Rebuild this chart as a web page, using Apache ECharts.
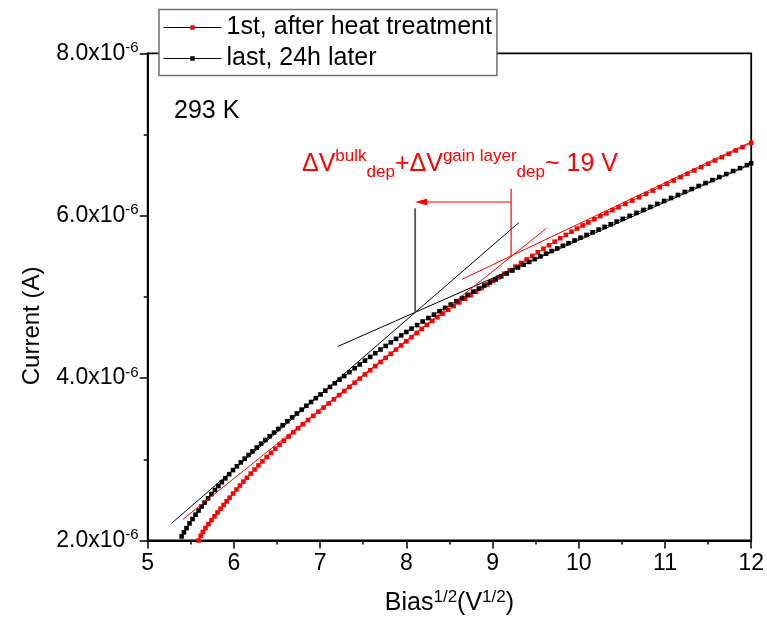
<!DOCTYPE html>
<html>
<head>
<meta charset="utf-8">
<script src="https://cdn.jsdelivr.net/npm/echarts@6/dist/echarts.min.js"></script>
<style>
html,body{margin:0;padding:0;background:#fff;}
#chart{width:767px;height:621px;}
</style>
</head>
<body>
<div id="chart"></div>
<script>
// ---------------- data (Bias^1/2 in V^1/2, current in units of 1e-6 A) ----------------
const seriesNames = ['1st, after heat treatment', 'last, 24h later'];

const biasFirst = [5.590,5.615,5.640,5.670,5.705,5.740,5.775,5.810,5.845,5.880,5.915,5.950,5.990,6.030,6.070,6.110,6.150,6.195,6.240,6.285,6.330,6.380,6.430,6.480,6.530,6.580,6.635,6.690,6.745,6.800,6.860,6.920,6.980,7.040,7.100,7.160,7.220,7.280,7.340,7.400,7.460,7.520,7.580,7.640,7.700,7.760,7.820,7.880,7.940,8.000,8.060,8.120,8.180,8.240,8.300,8.360,8.420,8.485,8.550,8.615,8.680,8.745,8.810,8.875,8.940,9.005,9.070,9.135,9.200,9.265,9.330,9.395,9.460,9.525,9.590,9.655,9.720,9.785,9.850,9.915,9.980,10.045,10.110,10.180,10.250,10.320,10.390,10.460,10.540,10.620,10.700,10.780,10.860,10.940,11.020,11.100,11.180,11.260,11.340,11.420,11.500,11.580,11.660,11.740,11.820,11.900,12.000];
const currentFirst = [2.000,2.058,2.106,2.153,2.203,2.251,2.298,2.345,2.391,2.437,2.482,2.527,2.578,2.628,2.677,2.725,2.772,2.824,2.875,2.925,2.974,3.027,3.079,3.130,3.180,3.229,3.281,3.332,3.382,3.431,3.483,3.535,3.586,3.637,3.688,3.739,3.790,3.841,3.892,3.943,3.994,4.045,4.096,4.147,4.198,4.249,4.300,4.351,4.402,4.453,4.504,4.555,4.606,4.656,4.704,4.750,4.794,4.841,4.887,4.932,4.977,5.021,5.065,5.109,5.153,5.197,5.241,5.285,5.329,5.373,5.417,5.461,5.505,5.549,5.593,5.637,5.680,5.722,5.763,5.803,5.842,5.880,5.917,5.956,5.994,6.031,6.068,6.104,6.145,6.186,6.227,6.268,6.309,6.351,6.392,6.433,6.474,6.515,6.556,6.597,6.639,6.680,6.721,6.762,6.803,6.844,6.896];

const biasLast = [5.393,5.420,5.450,5.485,5.520,5.555,5.590,5.625,5.660,5.700,5.740,5.780,5.820,5.860,5.900,5.945,5.990,6.035,6.080,6.125,6.170,6.215,6.265,6.315,6.365,6.415,6.465,6.515,6.565,6.620,6.675,6.730,6.785,6.840,6.895,6.950,7.005,7.060,7.115,7.170,7.225,7.280,7.340,7.400,7.460,7.520,7.580,7.640,7.700,7.760,7.820,7.880,7.940,8.000,8.060,8.125,8.190,8.255,8.320,8.385,8.450,8.515,8.580,8.645,8.710,8.775,8.840,8.905,8.970,9.035,9.100,9.165,9.230,9.295,9.360,9.425,9.490,9.555,9.620,9.685,9.750,9.815,9.880,9.950,10.020,10.090,10.160,10.230,10.300,10.370,10.440,10.510,10.590,10.670,10.750,10.830,10.910,10.990,11.070,11.150,11.230,11.310,11.390,11.470,11.550,11.630,11.710,11.790,11.870,11.950,12.000];
const currentLast = [2.050,2.100,2.152,2.210,2.265,2.318,2.369,2.418,2.466,2.519,2.571,2.622,2.671,2.719,2.766,2.817,2.867,2.915,2.962,3.008,3.053,3.097,3.145,3.192,3.238,3.284,3.329,3.374,3.419,3.468,3.516,3.564,3.612,3.659,3.706,3.753,3.799,3.845,3.891,3.936,3.981,4.025,4.073,4.121,4.168,4.215,4.261,4.307,4.352,4.396,4.440,4.483,4.526,4.568,4.609,4.653,4.697,4.740,4.782,4.824,4.865,4.906,4.946,4.986,5.025,5.064,5.102,5.140,5.178,5.215,5.252,5.289,5.325,5.361,5.396,5.431,5.465,5.499,5.532,5.565,5.597,5.629,5.661,5.695,5.729,5.763,5.796,5.829,5.862,5.895,5.928,5.961,5.998,6.035,6.071,6.108,6.145,6.182,6.218,6.255,6.292,6.329,6.366,6.402,6.439,6.476,6.513,6.550,6.586,6.623,6.646];

// tangent (fit) lines, endpoints in data units
const tangentLastSteep   = [[5.277, 2.212], [9.304, 5.914]];
const tangentLastFlat    = [[7.203, 4.389], [12.159, 6.709]];
const tangentFirstSteep  = [[5.408, 2.261], [9.624, 5.844]];
const tangentFirstFlat   = [[8.649, 5.218], [12.159, 6.990]];
// depletion markers
const markerLast  = [[8.102, 4.810], [8.102, 6.090]];
const markerFirst = [[9.215, 5.497], [9.215, 6.331]];
const arrowShift  = [9.215, 8.102, 6.169]; // from x, to x, at current

// axes
const xMin = 5, xMax = 12, xStep = 1;
const yMin = 2, yMax = 8, yStep = 2;
const yExponent = '-6';
const temperatureLabel = '293 K';

// ---------------- chart ----------------
const FONT = 'Liberation Sans, Arial, sans-serif';
const RED = '#ff0000';
const chart = echarts.init(document.getElementById('chart'), null, {renderer: 'canvas'});

function zip(xs, ys) { return xs.map((x, i) => [x, ys[i]]); }

function guide(data, color, width) {
  return {
    type: 'line', data: data, showSymbol: false, symbol: 'none', clip: false, silent: true,
    lineStyle: {color: color, width: width}, z: 5, animation: false
  };
}

const option = {
  animation: false,
  backgroundColor: '#fff',
  grid: {left: 147.7, right: 13.7, top: 53.3, bottom: 78.7, show: true,
         borderColor: '#000', borderWidth: 1.8, backgroundColor: 'transparent'},
  legend: {
    data: seriesNames, orient: 'vertical', left: 159, top: 9.5,
    itemWidth: 58, itemHeight: 5.6, itemGap: 3, padding: [4, 5, 3, 4],
    backgroundColor: '#fff', borderColor: '#707070', borderWidth: 1.5,
    selectedMode: false, z: 10,
    lineStyle: {width: 1},
    textStyle: {fontFamily: FONT, fontSize: 25, color: '#000', lineHeight: 28}
  },
  xAxis: {
    type: 'value', min: xMin, max: xMax, interval: xStep,
    name: '{m|Bias}{s|1/2}{m|(V}{s|1/2}{m|)}', nameLocation: 'middle', nameGap: 48,
    nameTextStyle: {
      color: '#000',
      rich: {
        m: {fontFamily: FONT, fontSize: 25, lineHeight: 30, color: '#000'},
        s: {fontFamily: FONT, fontSize: 17, lineHeight: 17, verticalAlign: 'top', color: '#000'}
      }
    },
    axisLine: {show: true, onZero: false, lineStyle: {color: '#000', width: 1.8}},
    axisTick: {show: true, inside: false, length: 8, lineStyle: {color: '#000', width: 1.5}},
    minorTick: {show: true, splitNumber: 2, length: 4, lineStyle: {color: '#000', width: 1.5}},
    splitLine: {show: false},
    axisLabel: {fontFamily: FONT, fontSize: 23, color: '#000', margin: 12}
  },
  yAxis: {
    type: 'value', min: yMin, max: yMax, interval: yStep,
    name: 'Current (A)', nameLocation: 'middle', nameGap: 103,
    nameTextStyle: {fontFamily: FONT, fontSize: 24, color: '#000', padding: [0, 58, 0, 0]},
    axisLine: {show: true, onZero: false, lineStyle: {color: '#000', width: 1.8}},
    axisTick: {show: true, inside: false, length: 8, lineStyle: {color: '#000', width: 1.5}},
    minorTick: {show: true, splitNumber: 2, length: 4, lineStyle: {color: '#000', width: 1.5}},
    splitLine: {show: false},
    axisLabel: {
      margin: 9,
      formatter: v => '{m|' + v.toFixed(1) + 'x10}{s|' + yExponent + '}',
      rich: {
        m: {fontFamily: FONT, fontSize: 23, lineHeight: 26, color: '#000'},
        s: {fontFamily: FONT, fontSize: 15, lineHeight: 15, verticalAlign: 'top', color: '#000'}
      }
    }
  },
  series: [
    {
      name: seriesNames[0], type: 'line', data: zip(biasFirst, currentFirst),
      symbol: 'rect', symbolSize: 4.6, showSymbol: true, clip: false,
      itemStyle: {color: RED}, lineStyle: {color: '#000', width: 0.7}, z: 3
    },
    {
      name: seriesNames[1], type: 'line', data: zip(biasLast, currentLast),
      symbol: 'rect', symbolSize: 4.6, showSymbol: true, clip: false,
      itemStyle: {color: '#000'}, lineStyle: {color: '#000', width: 0.7}, z: 3
    },
    guide(tangentLastSteep, '#000', 1),
    guide(tangentLastFlat, '#000', 1),
    guide(tangentFirstSteep, RED, 1),
    guide(tangentFirstFlat, RED, 1),
    guide(markerLast, '#555', 1.8),
    guide(markerFirst, RED, 1.2),
    {
      type: 'custom', silent: true, z: 6,
      data: [arrowShift],
      encode: {x: [0, 1], y: 2},
      renderItem: function (params, api) {
        const a = api.coord([api.value(0), api.value(2)]);
        const b = api.coord([api.value(1), api.value(2)]);
        const L = 12, W = 3.4, dir = Math.sign(b[0] - a[0]);
        return {
          type: 'group',
          children: [
            {type: 'line', shape: {x1: a[0], y1: a[1], x2: b[0] - dir * L, y2: b[1]},
             style: {stroke: RED, lineWidth: 1.2}},
            {type: 'polygon', shape: {points: [[b[0], b[1]], [b[0] - dir * L, b[1] - W], [b[0] - dir * L, b[1] + W]]},
             style: {fill: RED}}
          ]
        };
      }
    }
  ],
  graphic: [
    {
      type: 'text', left: 174, top: 99, z: 20,
      style: {text: temperatureLabel, fontFamily: FONT, fontSize: 25, fill: '#000'}
    },
    {
      type: 'text', left: 302, top: 147.5, z: 20,
      style: {
        text: '{m|\u0394V}{p|bulk}{b|dep}{m|+\u0394V}{p|gain layer}{b|dep}{m|~ 19 V}',
        rich: {
          m: {fontFamily: FONT, fontSize: 25, lineHeight: 33, fill: RED, color: RED},
          p: {fontFamily: FONT, fontSize: 17, lineHeight: 20, verticalAlign: 'top', fill: RED, color: RED},
          b: {fontFamily: FONT, fontSize: 17, lineHeight: 17, verticalAlign: 'bottom', fill: RED, color: RED}
        }
      }
    }
  ]
};

chart.setOption(option);
</script>
</body>
</html>
